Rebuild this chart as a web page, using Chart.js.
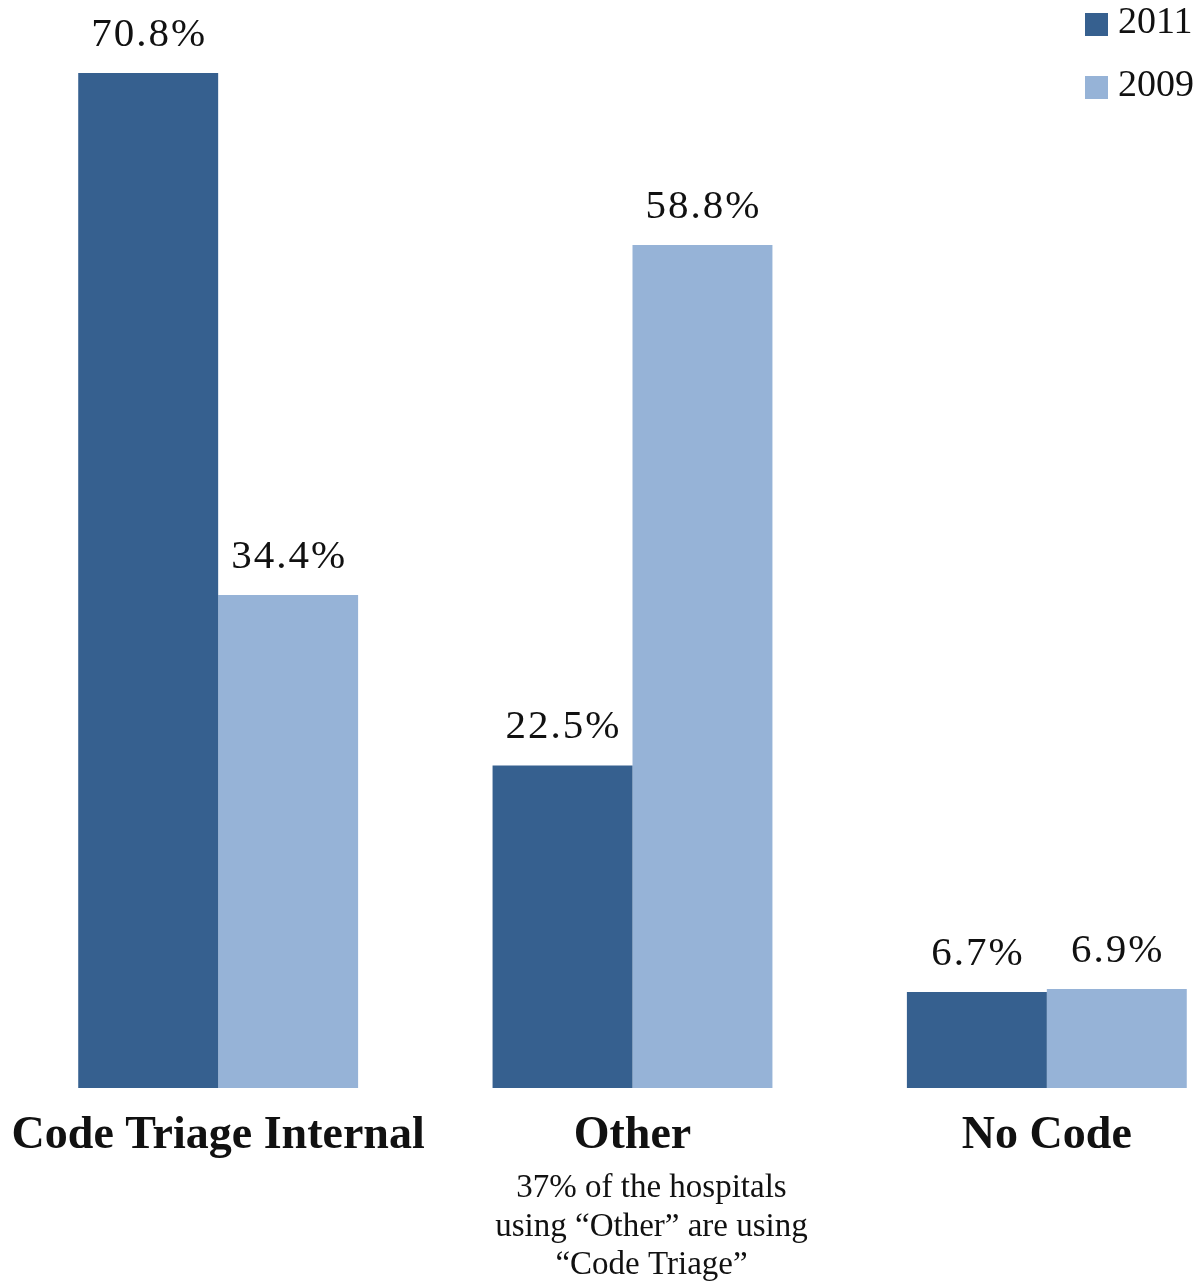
<!DOCTYPE html>
<html lang="en">
<head>
<meta charset="UTF-8">
<title>Code Triage</title>
<script src="https://cdn.jsdelivr.net/npm/chart.js"></script>
<style>
    body { margin: 0; background: #fff; overflow: hidden; }
    .wrap { width: 1260px; height: 1285px; }
</style>
</head>
<body>
<div class="wrap"><canvas id="codeChart" width="1260" height="1285"></canvas></div>
<script>
    var categorias = ['Code Triage Internal', 'Other', 'No Code']
    var anos = ['2011', '2009']
    var valores2011 = [70.8, 22.5, 6.7]
    var valores2009 = [34.4, 58.8, 6.9]
    var nota = ['37% of the hospitals', 'using \u201cOther\u201d are using', '\u201cCode Triage\u201d']
    var cores = ['#36608f', '#96b3d7']

    var fonte = '"Liberation Serif", "DejaVu Serif", serif'

    // rotulos em cima das barras
    var rotulos = {
        id: 'rotulos',
        afterDatasetsDraw: function (chart) {
            var ctx = chart.ctx
            ctx.save()
            ctx.fillStyle = '#111'
            ctx.font = '41px ' + fonte
            ctx.letterSpacing = '2px'
            ctx.textAlign = 'center'
            ctx.textBaseline = 'alphabetic'
            chart.data.datasets.forEach(function (ds, d) {
                chart.getDatasetMeta(d).data.forEach(function (el, i) {
                    ctx.fillText(ds.data[i].toFixed(1) + '%', el.x + 1, el.y - 27)
                })
            })
            ctx.restore()
        }
    }

    // nomes das categorias e a nota embaixo de "Other"
    var eixo = {
        id: 'eixo',
        afterDraw: function (chart) {
            var ctx = chart.ctx
            var x = chart.scales.x
            ctx.save()
            ctx.fillStyle = '#111'
            ctx.textAlign = 'center'
            ctx.textBaseline = 'alphabetic'
            ctx.font = 'bold 46px ' + fonte
            categorias.forEach(function (c, i) {
                ctx.fillText(c, x.getPixelForValue(i), 1148)
            })
            ctx.font = '33px ' + fonte
            var cx = x.getPixelForValue(1) + 19
            nota.forEach(function (linha, k) {
                ctx.fillText(linha, cx, 1197 + k * 38.5)
            })
            ctx.restore()
        }
    }

    // legenda no canto direito
    var legenda = {
        id: 'legenda',
        afterDraw: function (chart) {
            var ctx = chart.ctx
            ctx.save()
            ctx.font = '38px ' + fonte
            ctx.textBaseline = 'middle'
            ctx.textAlign = 'left'
            anos.forEach(function (a, k) {
                var y = 13 + k * 63
                ctx.fillStyle = cores[k]
                ctx.fillRect(1085, y, 23, 23)
                ctx.fillStyle = '#111'
                ctx.fillText(a, 1118, y + 10)
            })
            ctx.restore()
        }
    }

    new Chart(document.getElementById('codeChart'), {
        type: 'bar',
        data: {
            labels: categorias,
            datasets: [{
                label: anos[0],
                data: valores2011,
                backgroundColor: cores[0],
                borderWidth: 0
            }, {
                label: anos[1],
                data: valores2009,
                backgroundColor: cores[1],
                borderWidth: 0
            }]
        },
        options: {
            responsive: false,
            animation: false,
            layout: {
                padding: { left: 11, right: 6, top: 0, bottom: 197 }
            },
            datasets: {
                bar: { categoryPercentage: 0.6755, barPercentage: 1 }
            },
            scales: {
                x: { display: false },
                y: { display: false, min: 0, max: 75.9 }
            },
            plugins: {
                legend: { display: false },
                tooltip: { enabled: false }
            }
        },
        plugins: [rotulos, eixo, legenda]
    })
</script>
</body>
</html>
